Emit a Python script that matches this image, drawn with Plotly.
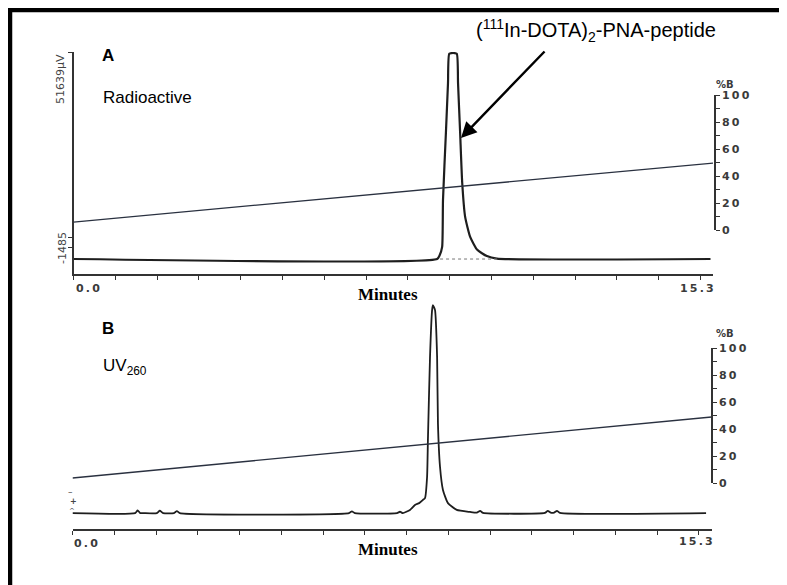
import plotly.graph_objects as go

# ---------------- data ----------------
# Panel A: radioactivity trace (µV) vs retention time (min)
time_a = [0.0, 8.70, 8.76, 8.82, 8.84, 8.91, 8.96, 8.99, 9.08, 9.17, 9.20, 9.25,
          9.30, 9.37, 9.49, 9.66, 9.89, 10.13, 15.24]
signal_a = [2100, 2100, 3000, 5000, 16200, 32300, 44200, 51200, 51400, 51200, 44200, 32300,
            20300, 12200, 7400, 4300, 2800, 2200, 2100]
baseline_a_time = [8.77, 10.13]
baseline_a_val = [2100, 2100]

# Panel B: UV260 trace (arbitrary units) vs retention time (min)
time_b = [0.0, 1.50, 1.56, 1.62, 1.69, 2.02, 2.09, 2.17, 2.43, 2.50, 2.57,
          6.62, 6.69, 6.76, 7.77, 7.84, 7.91, 8.08, 8.20, 8.30, 8.39, 8.44,
          8.49, 8.51, 8.56, 8.61, 8.63, 8.68, 8.73, 8.75, 8.80, 8.87, 8.99,
          9.20, 9.52, 9.68, 9.76, 9.83, 11.31, 11.38, 11.45, 11.53, 11.60, 11.67, 15.17]
signal_b = [70, 70, 82, 70, 70, 70, 81, 70, 70, 79, 70,
            70, 78, 70, 70, 76, 70, 84, 106, 114, 128, 136,
            229, 392, 757, 964, 986, 964, 757, 466, 273, 172, 114,
            84, 75, 72, 80, 71, 71, 80, 72, 72, 80, 71, 70]

# Solvent gradient (%B)
grad_time = [0.0, 15.3]
grad_a = [5.9, 49.6]
grad_b = [3.7, 48.9]

# Axis ticks
minute_ticks = [0, 1, 2, 3, 4, 5, 6, 7, 8, 9, 10, 11, 12, 13, 14, 15]
pct_ticks = [0, 10, 20, 30, 40, 50, 60, 70, 80, 90, 100]
pct_labels = ["0", "", "2\u20090", "", "4\u20090", "", "6\u20090", "", "8\u20090", "", "1\u20090\u20090"]
signal_a_range = [-1485, 51639]
signal_b_range = [0, 1000]

# ---------------- layout helpers ----------------
# page body adds an 8px offset, so the figure is 8px smaller and shifted
OFF = 8
W, H = 787 - OFF, 585 - OFF
def px(x):
    return (x - OFF) / W
def py(y):
    return 1 - (y - OFF) / H

LINE = "#1e1e1e"
AXC = "#333333"
GRAD = "#2a3140"
MONO = dict(family="DejaVu Sans", size=11, color="#3a3a3a", weight="bold")

fig = go.Figure()

# Panel A traces
fig.add_trace(go.Scatter(x=time_a, y=signal_a, mode="lines", xaxis="x", yaxis="y",
                         line=dict(color=LINE, width=2.2, shape="spline", smoothing=0.5),
                         hoverinfo="skip", showlegend=False))
fig.add_trace(go.Scatter(x=baseline_a_time, y=baseline_a_val, mode="lines", xaxis="x", yaxis="y",
                         line=dict(color="#777777", width=1, dash="dot"),
                         hoverinfo="skip", showlegend=False))
fig.add_trace(go.Scatter(x=grad_time, y=grad_a, mode="lines", xaxis="x3", yaxis="y2",
                         line=dict(color=GRAD, width=1.3), hoverinfo="skip", showlegend=False))

# Panel B traces
fig.add_trace(go.Scatter(x=time_b, y=signal_b, mode="lines", xaxis="x2", yaxis="y3",
                         line=dict(color=LINE, width=1.8, shape="spline", smoothing=0.5),
                         hoverinfo="skip", showlegend=False))
fig.add_trace(go.Scatter(x=grad_time, y=grad_b, mode="lines", xaxis="x4", yaxis="y4",
                         line=dict(color=GRAD, width=1.3), hoverinfo="skip", showlegend=False))

xa_dom = [px(73.5), px(713.0)]
xb_dom = [px(72.5), px(711.5)]

common_x = dict(range=[0, 15.3], tickmode="array", tickvals=minute_ticks, showticklabels=False,
                ticks="outside", ticklen=4, tickwidth=1.3, tickcolor=AXC,
                showline=True, linecolor=AXC, linewidth=1.6, showgrid=False, zeroline=False,
                automargin=False, fixedrange=True)
hidden_x = dict(range=[0, 15.3], visible=False, showgrid=False, zeroline=False, fixedrange=True)
pct_axis = dict(range=[0, 100], side="right", anchor="free", tickmode="array",
                tickvals=pct_ticks, ticktext=pct_labels, ticks="outside", ticklen=4,
                tickwidth=1.3, tickcolor=AXC, showline=True, linecolor=AXC, linewidth=1.6,
                showgrid=False, zeroline=False, tickfont=MONO, automargin=False, fixedrange=True)

fig.update_layout(
    width=W, height=H,
    margin=dict(l=0, r=0, t=0, b=0),
    paper_bgcolor="white", plot_bgcolor="rgba(0,0,0,0)",
    showlegend=False,
    xaxis=dict(domain=xa_dom, anchor="y", **common_x),
    yaxis=dict(domain=[py(274), py(52)], range=signal_a_range, anchor="x",
               tickmode="array", tickvals=[51639, 7370, 4740], showticklabels=False,
               ticks="outside", ticklen=4, tickwidth=1.3, tickcolor=AXC,
               showline=True, linecolor=AXC, linewidth=1.6, showgrid=False, zeroline=False,
               automargin=False, fixedrange=True),
    xaxis3=dict(domain=xa_dom, anchor="y2", **hidden_x),
    yaxis2=dict(domain=[py(230), py(95)], position=px(715), **pct_axis),
    xaxis2=dict(domain=xb_dom, anchor="y3", **common_x),
    yaxis3=dict(domain=[py(529), py(302)], range=signal_b_range, anchor="x2",
                visible=False, showgrid=False, zeroline=False, fixedrange=True),
    xaxis4=dict(domain=xb_dom, anchor="y4", **hidden_x),
    yaxis4=dict(domain=[py(483), py(348)], position=px(712), **pct_axis),
)

# outer frame (only top and left edges fall inside the picture)
fig.add_shape(type="line", xref="paper", yref="paper",
              x0=px(10), x1=px(800), y0=py(10), y1=py(10),
              line=dict(color="black", width=4.5))
fig.add_shape(type="line", xref="paper", yref="paper",
              x0=px(10), x1=px(10), y0=py(8), y1=py(600),
              line=dict(color="black", width=4.5))

ann = []
def text(x, y, t, size=12, family="Liberation Sans", color="black", weight="normal",
         xanchor="center", yanchor="middle", angle=0):
    ann.append(dict(x=px(x), y=py(y), xref="paper", yref="paper", text=t, showarrow=False,
                    xanchor=xanchor, yanchor=yanchor, textangle=angle,
                    font=dict(family=family, size=size, color=color, weight=weight)))

# peak label + arrow
text(596, 31, "(<sup>111</sup>In-DOTA)<sub>2</sub>-PNA-peptide", size=20)
ann.append(dict(x=px(461), y=py(138), xref="paper", yref="paper",
                ax=546 - 461, ay=50 - 138, axref="pixel", ayref="pixel",
                text="", showarrow=True, arrowhead=2, arrowsize=1.3, arrowwidth=2.4,
                arrowcolor="black"))

# panel letters / labels
text(100, 56, "A", size=17, weight="bold", xanchor="left")
text(101, 97, "Radioactive", size=17, xanchor="left")
text(100, 328, "B", size=17, weight="bold", xanchor="left")
text(101, 367, "UV<sub>260</sub>", size=17, xanchor="left")

# x-axis titles
text(388, 294, "Minutes", size=17, family="Liberation Serif", weight="bold")
text(388, 549, "Minutes", size=17, family="Liberation Serif", weight="bold")

# x end labels
for (x, y, t) in [(74, 288, "0\u2009.\u20090"), (678, 288, "1\u20095\u2009.\u20093"),
                  (72, 543, "0\u2009.\u20090"), (677, 541, "1\u20095\u2009.\u20093")]:
    text(x, y, t, size=11, family="DejaVu Sans", color="#3a3a3a", weight="bold", xanchor="left")

# %B headers
text(725, 84, "%B", size=10, family="DejaVu Sans", color="#3a3a3a", weight="bold")
text(725, 333, "%B", size=10, family="DejaVu Sans", color="#3a3a3a", weight="bold")

# left axis extreme labels (rotated)
text(60, 52, "51639\u00b5V", size=11, family="DejaVu Sans", color="#444444",
     angle=-90, yanchor="top")
text(62, 248, "-1485", size=11, family="DejaVu Sans", color="#444444", angle=-90)

# small markers on panel B left
text(70, 492, "\u2013", size=9, family="DejaVu Sans", color="#444444")
text(73, 501, "+", size=8, family="DejaVu Sans", color="#444444", weight="bold")
text(72, 511, "^", size=7, family="DejaVu Sans", color="#444444")

fig.update_layout(annotations=ann)
fig.write_html("out.html")
